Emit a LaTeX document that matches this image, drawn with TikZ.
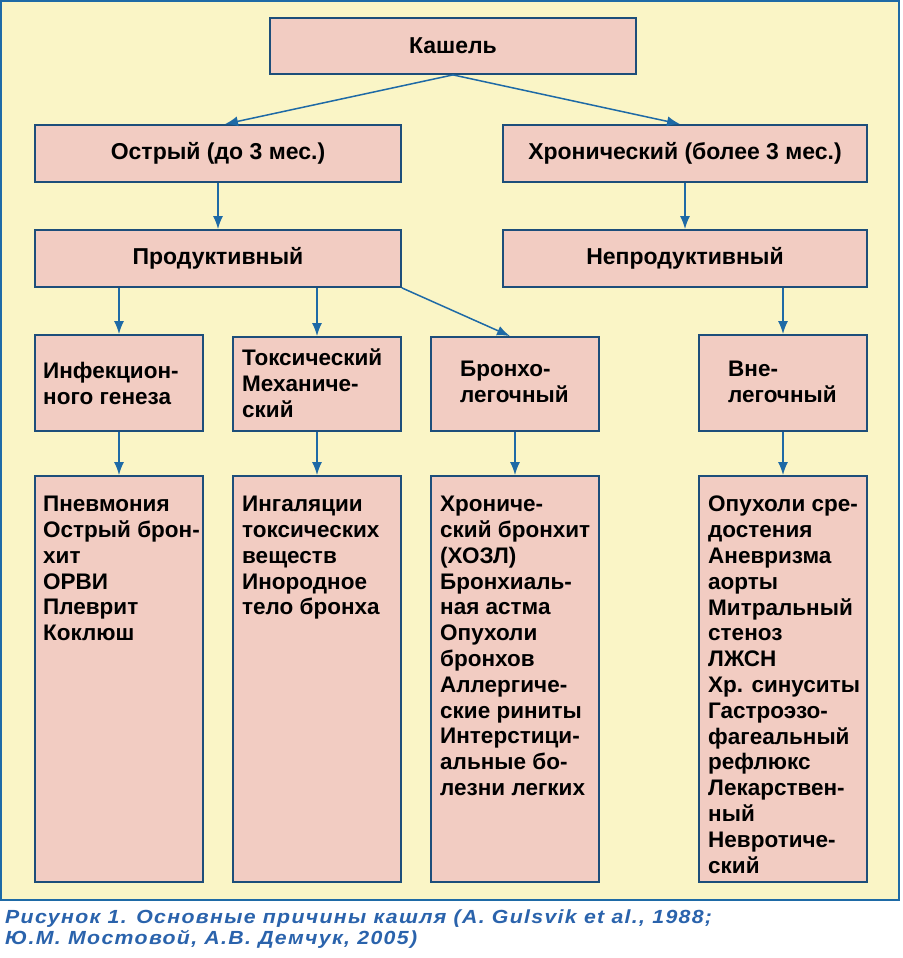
\documentclass[tikz,border=0pt]{standalone}
\usepackage{fontspec}
\setmainfont{Liberation Sans}
\newfontfamily\capfont[FakeStretch=1.12, LetterSpace=7]{Liberation Sans}
\usetikzlibrary{arrows.meta}
\definecolor{bgcream}{HTML}{FAF5C6}
\definecolor{boxfill}{HTML}{F2CCC2}
\definecolor{boxline}{HTML}{1D4E7A}
\definecolor{arrowcol}{HTML}{1E6AA6}
\definecolor{capcol}{HTML}{2A63AC}
\tikzset{
  box/.style={draw=boxline, fill=boxfill, line width=1.8pt, inner sep=0pt, font=\fontsize{23}{26}\selectfont\bfseries},
  listtext/.style={anchor=north west, inner sep=0pt, align=left, font=\fontsize{22.5}{25.8}\selectfont\bfseries},
  conn/.style={draw=arrowcol, line width=1.5pt, -{Latex[length=13pt,width=10pt]}},
}
\begin{document}
\begin{tikzpicture}[x=1pt,y=-1pt]
\useasboundingbox (0,0) rectangle (902,958);
\fill[white] (0,0) rectangle (902,958);
\draw[fill=bgcream, draw=arrowcol, line width=2pt] (1,1) rectangle (899,900);

% level 0
\node[box, minimum width=366, minimum height=56] (k) at (453,46) {Кашель};
% level 1
\node[box, minimum width=366, minimum height=57] (ac) at (218,153.5) {Острый (до 3 мес.)};
\node[box, minimum width=364, minimum height=57] (ch) at (685,153.5) {Хронический (более 3 мес.)};
% level 2
\node[box, minimum width=366, minimum height=57] (pr) at (218,258.5) {Продуктивный};
\node[box, minimum width=364, minimum height=57] (np) at (685,258.5) {Непродуктивный};
% level 3
\node[box, minimum width=168, minimum height=96] (inf) at (119,383) {};
\node[box, minimum width=168, minimum height=94] (tox) at (317,384) {};
\node[box, minimum width=168, minimum height=94] (br) at (515,384) {};
\node[box, minimum width=168, minimum height=96] (vn) at (783,383) {};
\node[listtext] (inft) at (43,362) {Инфекцион-\\ного генеза};
\node[listtext] (toxt) at (242,349) {Токсический\\Механиче-\\ский};
\node[listtext] (brt) at (460,361) {Бронхо-\\легочный};
\node[listtext] (vnt) at (728,361) {Вне-\\легочный};
% level 4
\node[box, minimum width=168, minimum height=406] (l1) at (119,679) {};
\node[box, minimum width=168, minimum height=406] (l2) at (317,679) {};
\node[box, minimum width=168, minimum height=406] (l3) at (515,679) {};
\node[box, minimum width=168, minimum height=406] (l4) at (783,679) {};
\node[listtext] (l1t) at (43,496) {Пневмония\\Острый брон-\\хит\\ОРВИ\\Плеврит\\Коклюш};
\node[listtext] (l2t) at (242,496) {Ингаляции\\токсических\\веществ\\Инородное\\тело бронха};
\node[listtext] (l3t) at (440,496) {Хрониче-\\ский бронхит\\(ХОЗЛ)\\Бронхиаль-\\ная астма\\Опухоли\\бронхов\\Аллергиче-\\ские риниты\\Интерстици-\\альные бо-\\лезни легких};
\node[listtext] (l4t) at (708,496) {Опухоли сре-\\достения\\Аневризма\\аорты\\Митральный\\стеноз\\ЛЖСН\\Хр. синуситы\\Гастроэзо-\\фагеальный\\рефлюкс\\Лекарствен-\\ный\\Невротиче-\\ский};

% connectors
\draw[conn] (k.south) -- ([xshift=7pt]ac.north);
\draw[conn] (k.south) -- ([xshift=-5pt]ch.north);
\draw[conn] (ac.south) -- (pr.north);
\draw[conn] (ch.south) -- (np.north);
\draw[conn] (pr.south -| inf.north) -- (inf.north);
\draw[conn] (pr.south -| tox.north) -- (tox.north);
\draw[conn] (pr.south east) -- ([xshift=-5pt]br.north);
\draw[conn] (np.south -| vn.north) -- (vn.north);
\draw[conn] (inf.south) -- (l1.north);
\draw[conn] (tox.south) -- (l2.north);
\draw[conn] (br.south) -- (l3.north);
\draw[conn] (vn.south) -- (l4.north);

% caption
\node[anchor=north west, inner sep=0pt, align=left, text=capcol, font=\capfont\bfseries\itshape\fontsize{19}{21}\selectfont] (cap) at (5,910) {Рисунок 1. Основные причины кашля (A. Gulsvik et al., 1988;\\Ю.М. Мостовой, А.В. Демчук, 2005)};
\end{tikzpicture}
\end{document}
